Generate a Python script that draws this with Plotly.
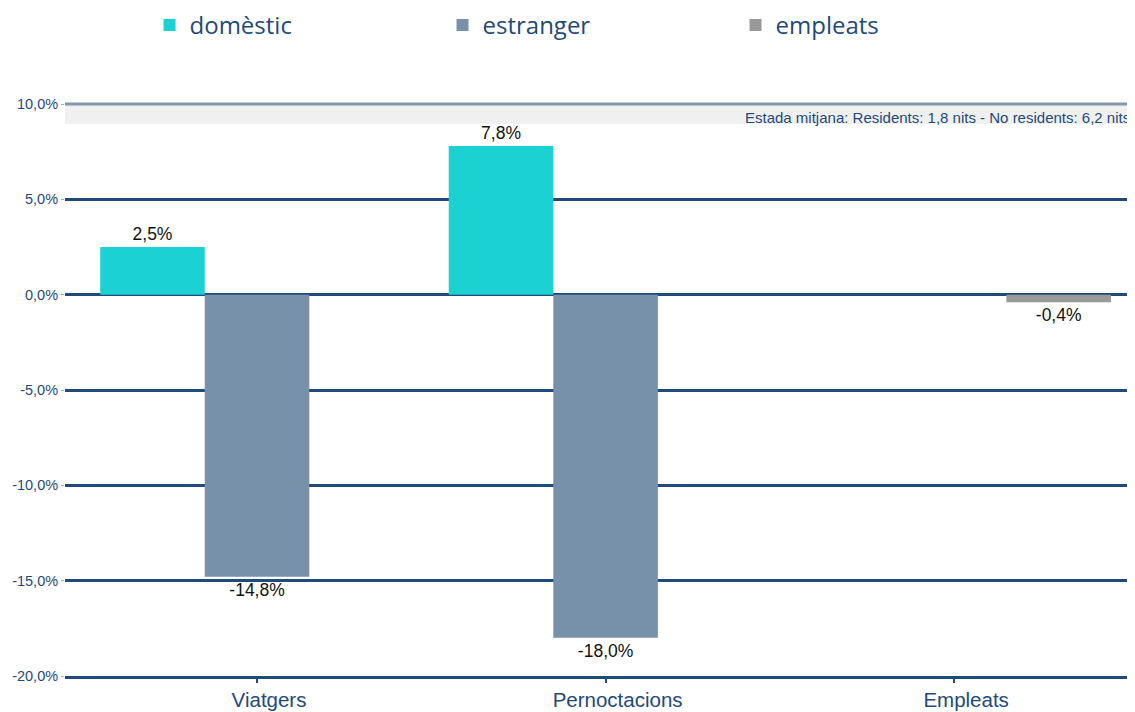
import plotly.graph_objects as go

categories = ["Viatgers", "Pernoctacions", "Empleats"]
domestic = [2.5, 7.8, None]
foreign = [-14.8, -18.0, None]
employees = [None, None, -0.4]
series_names = ["domèstic", "estranger", "empleats"]
y_ticks = [10, 5, 0, -5, -10, -15, -20]
y_tick_labels = ["10,0%", "5,0%", "0,0%", "-5,0%", "-10,0%", "-15,0%", "-20,0%"]
note_text = "Estada mitjana: Residents: 1,8 nits - No residents: 6,2 nits"

NAVY = "#1f4a7a"
colors = ["#1bd1d1", "#7891ab", "#999999"]

fig = go.Figure()
for name, vals, col in zip(series_names, [domestic, foreign, employees], colors):
    fig.add_trace(go.Bar(
        x=categories, y=vals, name=name,
        marker=dict(color=col, line=dict(width=0)),
        texttemplate="%{y:.1f}%", textposition="outside",
        textfont=dict(family="Liberation Sans, Arial", size=17.5, color="#111111"),
        cliponaxis=False,
    ))

fig.update_layout(
    width=1127, height=704,
    margin=dict(l=57, r=0, t=96, b=36, autoexpand=False),
    paper_bgcolor="white", plot_bgcolor="white",
    separators=",.",
    barmode="group", bargap=0.1, bargroupgap=0,
    font=dict(family="Liberation Sans, Arial", color=NAVY),
    legend=dict(
        orientation="h", x=0.079, xanchor="left", y=1.1766, yanchor="top",
        yref="paper",
        font=dict(family="Open Sans", size=24, color=NAVY),
        entrywidth=248, entrywidthmode="pixels",
        itemclick=False,
    ),
    showlegend=True,
)

fig.update_xaxes(
    range=[-0.551, 2.519], showgrid=False, zeroline=False,
    showline=True, linecolor=NAVY, linewidth=2.5,
    ticks="outside", ticklen=4, tickwidth=2, tickcolor=NAVY,
    tickfont=dict(family="Liberation Sans, Arial", size=20.5, color=NAVY),
    ticklabelshift=12, ticklabelstandoff=0, automargin=False,
)
fig.update_yaxes(
    range=[-20, 10], tickvals=y_ticks, ticktext=y_tick_labels,
    showgrid=True, gridcolor=NAVY, gridwidth=2.5,
    zeroline=True, zerolinecolor=NAVY, zerolinewidth=2.5,
    tickfont=dict(family="Liberation Sans, Arial", size=14.5, color=NAVY),
    ticks="outside", ticklen=3, tickcolor="#9fb0c4",
    layer="above traces", automargin=False,
)

fig.add_shape(type="rect", xref="paper", yref="y", x0=0, x1=1, y0=8.95, y1=10,
              fillcolor="#f0f0f0", line=dict(width=0), layer="below")
fig.add_shape(type="line", xref="paper", yref="paper", x0=0, x1=1, y0=1, y1=1,
              line=dict(color="#8096ae", width=3), layer="above")
fig.add_annotation(xref="paper", yref="y", x=0.9972, y=9.3, xanchor="right", yanchor="middle",
                   text=note_text, showarrow=False,
                   font=dict(family="Liberation Sans, Arial", size=15, color=NAVY))

fig.write_html("out.html")
